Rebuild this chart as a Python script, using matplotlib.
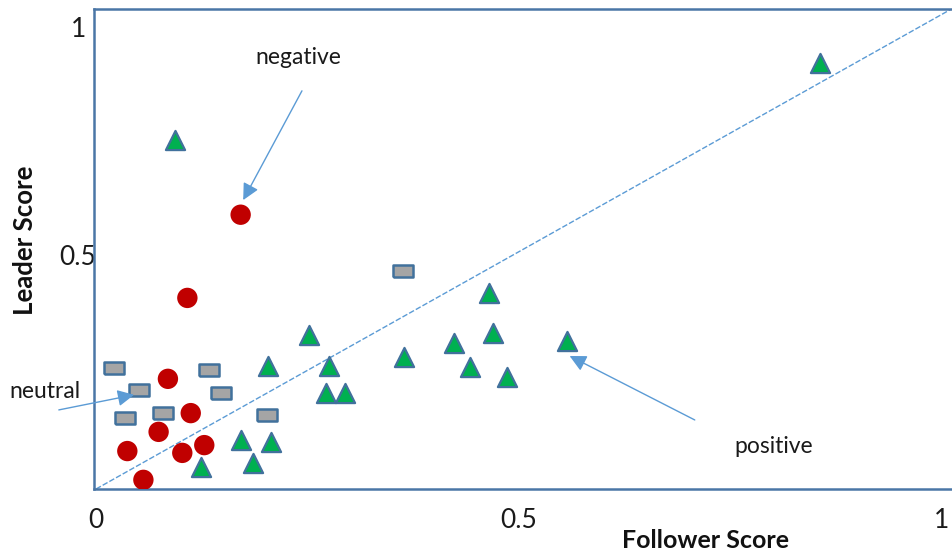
import matplotlib
matplotlib.use("Agg")
import matplotlib.pyplot as plt
from matplotlib.transforms import ScaledTranslation

plt.rcParams['font.family'] = ['Lato', 'DejaVu Sans']

# ---- data ----
pos_x = [0.093, 0.856, 0.465, 0.252, 0.469, 0.423, 0.557, 0.364, 0.275, 0.203,
         0.442, 0.486, 0.272, 0.294, 0.171, 0.207, 0.124, 0.186]
pos_y = [0.764, 0.932, 0.429, 0.337, 0.341, 0.319, 0.324, 0.289, 0.269, 0.269,
         0.267, 0.245, 0.210, 0.210, 0.107, 0.103, 0.048, 0.057]

neg_x = [0.171, 0.108, 0.085, 0.112, 0.074, 0.037, 0.102, 0.128, 0.056]
neg_y = [0.600, 0.418, 0.241, 0.166, 0.125, 0.083, 0.079, 0.096, 0.020]

neu_x = [0.021, 0.051, 0.134, 0.148, 0.034, 0.079, 0.202, 0.363]
neu_y = [0.265, 0.217, 0.260, 0.210, 0.155, 0.166, 0.162, 0.477]

diag_x = [0.0, 1.05]
diag_y = [0.0, 1.09]

x_ticks = [0, 0.5, 1]
x_tick_labels = ['0', '0.5', '1']
y_ticks = [0.5, 1]
y_tick_labels = ['0.5', '1']

# ---- figure ----
fig = plt.figure(figsize=(9.52, 5.52), dpi=100)
ax = fig.add_axes([94 / 952, 63 / 552, 890 / 952, 480 / 552])
ax.set_xlim(-0.0024, 1.05)
ax.set_ylim(0, 1.05)

spine_c = '#4A76A6'
for s in ax.spines.values():
    s.set_color(spine_c)
    s.set_linewidth(1.8)

ax.plot(diag_x, diag_y, color='#5B9BD5', lw=1.0, ls=(0, (4, 1.5)), zorder=1)

edge = '#41719C'
ax.scatter(pos_x, pos_y, marker='^', s=190, facecolor='#00B050',
           edgecolor=edge, linewidths=1.6, zorder=3)
ax.scatter(neg_x, neg_y, marker='o', s=215, facecolor='#C00000',
           edgecolor='none', zorder=3)
rect = [(-1, -0.6), (1, -0.6), (1, 0.6), (-1, 0.6), (-1, -0.6)]
ax.scatter(neu_x, neu_y, marker=rect, s=205, facecolor='#A5A5A5',
           edgecolor=edge, linewidths=1.8, zorder=3)

ax.set_xticks(x_ticks)
ax.set_xticklabels(x_tick_labels)
ax.set_yticks(y_ticks)
ax.set_yticklabels(y_tick_labels)
ax.tick_params(axis='both', length=0, labelsize=19, labelcolor='#1a1a1a')
ax.tick_params(axis='x', pad=14)
ax.tick_params(axis='y', pad=11.5)
for t in ax.yaxis.get_major_ticks():
    t.label1.set_horizontalalignment('center')
    t.label1.set_transform(t.label1.get_transform() +
                           ScaledTranslation(0, 0.05, fig.dpi_scale_trans))

# axis titles
fig.text(25 / 952, 1 - 240 / 552, 'Leader Score', rotation=90, ha='center',
         va='center', fontsize=18.5, fontweight='bold', color='#111111')
fig.text(706 / 952, 1 - 540 / 552, 'Follower Score', ha='center',
         va='center', fontsize=18, fontweight='bold', color='#111111')

# annotations
arrow_c = '#5B9BD5'
aprops = dict(arrowstyle='-|>,head_length=1.0,head_width=0.5', color=arrow_c,
              lw=1.0, shrinkA=0, shrinkB=0)
ax.text(0.239, 0.945, 'negative', ha='center', va='center', fontsize=16.5,
        color='#1a1a1a')
ax.annotate('', xy=(0.174, 0.632), xytext=(0.2435, 0.871),
            arrowprops=aprops)
ax.text(-0.060, 0.214, 'neutral', ha='center', va='center', fontsize=16.5,
        color='#1a1a1a', clip_on=False)
ax.annotate('', xy=(0.045, 0.206), xytext=(-0.044, 0.173),
            arrowprops=aprops, annotation_clip=False)
ax.text(0.801, 0.094, 'positive', ha='center', va='center', fontsize=16.5,
        color='#1a1a1a')
ax.annotate('', xy=(0.560, 0.291), xytext=(0.708, 0.151),
            arrowprops=aprops)

fig.savefig('out.png', dpi=100)
